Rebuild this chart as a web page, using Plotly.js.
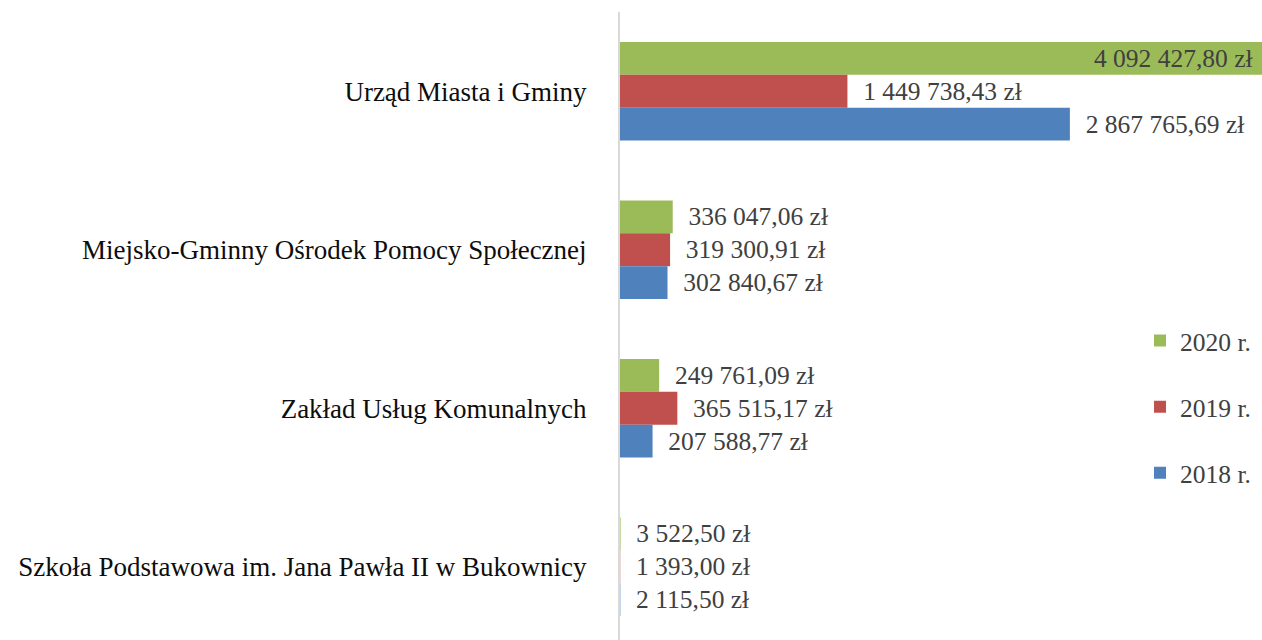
<!DOCTYPE html>
<html>
<head>
<meta charset="utf-8">
<script src="https://cdn.plot.ly/plotly-3.0.1.min.js"></script>
<style>html,body{margin:0;padding:0;background:#fff;overflow:hidden}</style>
</head>
<body>
<div id="chart"></div>
<script>
var categories = [
  "Urząd Miasta i Gminy",
  "Miejsko-Gminny Ośrodek Pomocy Społecznej",
  "Zakład Usług Komunalnych",
  "Szkoła Podstawowa im. Jana Pawła II w Bukownicy"
];
var values2020 = [4092427.80, 336047.06, 249761.09, 3522.50];
var values2019 = [1449738.43, 319300.91, 365515.17, 1393.00];
var values2018 = [2867765.69, 302840.67, 207588.77, 2115.50];
var seriesNames = ["2020 r.", "2019 r.", "2018 r."];
var seriesColors = ["#9bbb59", "#c0504d", "#4f81bd"];

function fmt(v) {
  var parts = v.toFixed(2).split(".");
  var intPart = parts[0].replace(/\B(?=(\d{3})+(?!\d))/g, " ");
  return intPart + "," + parts[1] + " zł";
}
var maxVal = Math.max.apply(null, values2020.concat(values2019, values2018));

function makeTrace(vals, name, color) {
  var positions = vals.map(function (v) { return v >= maxVal * 0.9 ? "inside" : "outside"; });
  var texts = vals.map(function (v, i) {
    return positions[i] === "inside" ? fmt(v) + "\u00A0" : "\u00A0\u00A0" + fmt(v);
  });
  var f = {family: "Liberation Serif, serif", size: 25.5, color: "#404040"};
  return {
    type: "bar",
    orientation: "h",
    y: categories,
    x: vals,
    name: name,
    legendgroup: name,
    marker: {color: color},
    text: texts,
    textposition: positions,
    insidetextanchor: "end",
    constraintext: "none",
    cliponaxis: false,
    textfont: f,
    insidetextfont: f,
    outsidetextfont: f,
    hoverinfo: "none"
  };
}

var data = [
  makeTrace(values2020, seriesNames[0], seriesColors[0]),
  makeTrace(values2019, seriesNames[1], seriesColors[1]),
  makeTrace(values2018, seriesNames[2], seriesColors[2])
];

var layout = {
  width: 1262,
  height: 646,
  margin: {l: 620, r: 0, t: 12, b: 0, pad: 0},
  paper_bgcolor: "#ffffff",
  plot_bgcolor: "#ffffff",
  barmode: "group",
  bargap: 0.38,
  bargroupgap: 0,
  showlegend: true,
  legend: {
    x: 0.81, xanchor: "left",
    y: 0.377, yanchor: "middle",
    traceorder: "grouped",
    tracegroupgap: 30,
    font: {family: "Liberation Serif, serif", size: 25.5, color: "#404040"},
    bgcolor: "rgba(0,0,0,0)"
  },
  xaxis: {
    range: [0, maxVal],
    visible: false,
    showgrid: false,
    zeroline: false,
    fixedrange: true
  },
  yaxis: {
    autorange: "reversed",
    showline: true,
    linecolor: "#d9d9d9",
    linewidth: 2,
    ticks: "",
    showgrid: false,
    zeroline: false,
    automargin: false,
    ticklabelstandoff: 26,
    tickfont: {family: "Liberation Serif, serif", size: 27, color: "#0d0d0d"},
    fixedrange: true
  }
};

Plotly.newPlot("chart", data, layout, {displayModeBar: false, staticPlot: true});
</script>
</body>
</html>
